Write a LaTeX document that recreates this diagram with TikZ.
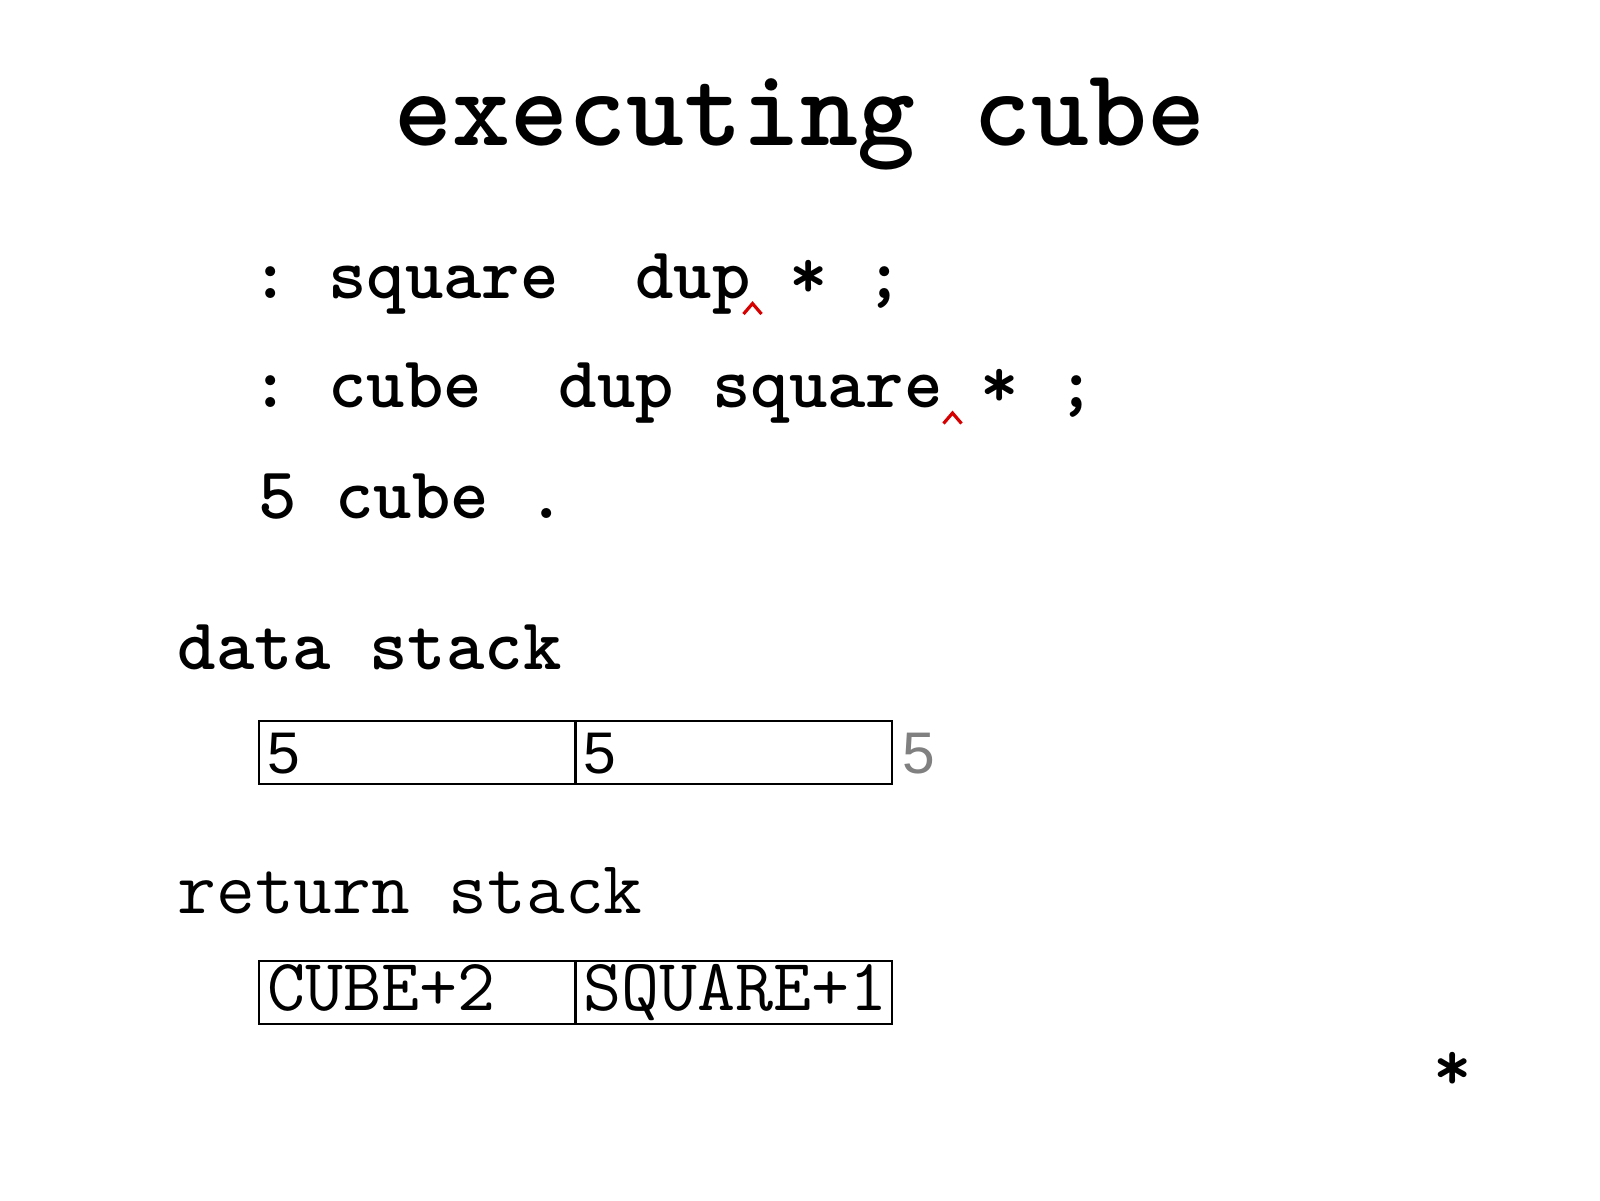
\documentclass[tikz,border=0pt]{standalone}
\usepackage{fontspec}
\newfontfamily\numfont{Liberation Sans}
\usetikzlibrary{positioning}
\definecolor{caretred}{RGB}{215,0,0}
\tikzset{
  titletext/.style={inner sep=0pt, anchor=base, font=\fontsize{31.4}{36}\selectfont\ttfamily\bfseries},
  codetext/.style={inner sep=0pt, anchor=base west, font=\fontsize{20.8}{25}\selectfont\ttfamily\bfseries},
  plaintext/.style={inner sep=0pt, anchor=base west, font=\fontsize{21.4}{25}\selectfont\ttfamily},
  cell/.style={draw=black, line width=0.8pt, outer sep=0pt, inner xsep=0.08cm, inner ysep=0pt, minimum width=3.165cm, minimum height=0.63cm, text width=3.005cm, align=left, text height=0.42cm, text depth=0pt, font=\fontsize{16.7}{20}\selectfont\numfont},
  retcell/.style={cell, text height=0.44cm, text depth=0.09cm, font=\fontsize{21}{24}\selectfont\ttfamily},
  caret/.style={draw=caretred, line width=0.9pt}
}

\begin{document}
\begin{tikzpicture}
\useasboundingbox (0,0) rectangle (16,-12);
\node[titletext] (title) at (8,-1.45) {executing cube};
\node[codetext] (line1) at (2.51,-2.98) {:~square~~dup~*~;};
\node[codetext] (line2) at (2.51,-4.07) {:~cube~~dup~square~*~;};
\node[codetext] (line3) at (2.58,-5.18) {5~cube~.};
\coordinate (hat1) at (7.525,-3.035);
\coordinate (hat2) at (9.525,-4.13);
\draw[caret] ([shift={(-0.09,-0.105)}]hat1) -- (hat1) -- ++(0.09,-0.105);
\draw[caret] ([shift={(-0.09,-0.105)}]hat2) -- (hat2) -- ++(0.09,-0.105);
\node[codetext] (dslabel) at (1.77,-6.69) {data stack};
\node[cell, anchor=north west] (d1) at (2.59,-7.21) {5};
\node[cell, right=0pt of d1] (d2) {5};
\node[inner sep=0pt, anchor=base west, font=\fontsize{16.7}{20}\selectfont\numfont, text=black!50] (dnext) at (9.02,-7.73) {5};
\node[plaintext] (rslabel) at (1.77,-9.13) {return stack};
\node[retcell, anchor=north west] (r1) at (2.59,-9.61) {CUBE+2};
\node[retcell, right=0pt of r1] (r2) {SQUARE+1};
\node[codetext] (star) at (14.33,-10.90) {*};
\end{tikzpicture}
\end{document}
